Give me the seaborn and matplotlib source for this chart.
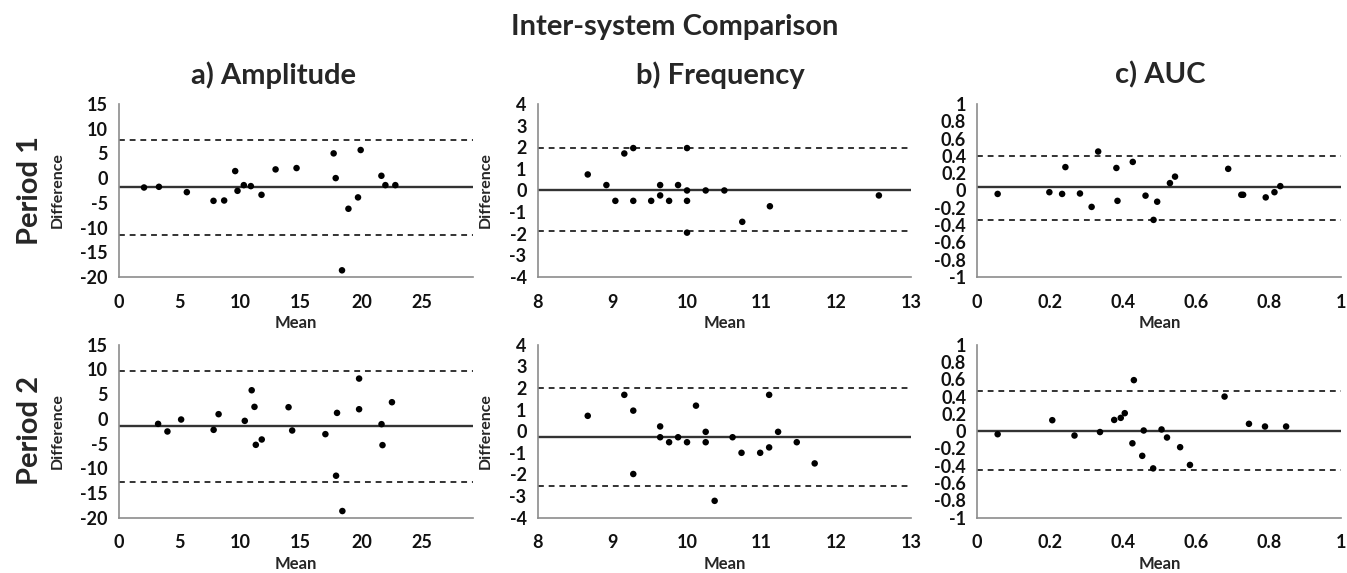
import numpy as np
import pandas as pd
import matplotlib
matplotlib.use("Agg")
import matplotlib.pyplot as plt
import seaborn as sns

# ---------------- data ----------------
amp1_mean = [2.07, 3.3, 5.6, 7.8, 8.68, 9.59, 9.78, 10.3, 10.88, 11.76, 12.92, 14.65,
             17.71, 17.88, 18.4, 18.93, 19.72, 19.94, 21.65, 21.98, 22.8]
amp1_diff = [-1.9, -1.76, -2.84, -4.6, -4.53, 1.42, -2.57, -1.42, -1.62, -3.38, 1.76, 2.03,
             5.0, 0.0, -18.65, -6.2, -3.9, 5.68, 0.47, -1.42, -1.42]

freq1_mean = [8.67, 8.92, 9.04, 9.16, 9.28, 9.28, 9.52, 9.64, 9.64, 9.76, 9.88, 10.0,
              10.0, 10.0, 10.0, 10.25, 10.5, 10.74, 11.11, 12.57]
freq1_diff = [0.74, 0.25, -0.48, 1.71, 1.96, -0.48, -0.48, 0.25, -0.23, -0.48, 0.25, 1.96,
              0.0, -0.48, -1.95, 0.0, 0.0, -1.45, -0.73, -0.23]

auc1_mean = [0.056, 0.198, 0.233, 0.242, 0.282, 0.314, 0.332, 0.382, 0.385, 0.427, 0.462,
             0.484, 0.494, 0.529, 0.543, 0.689, 0.725, 0.73, 0.792, 0.816, 0.832]
auc1_diff = [-0.04, -0.02, -0.04, 0.27, -0.035, -0.19, 0.45, 0.26, -0.12, 0.33, -0.06,
             -0.34, -0.13, 0.085, 0.16, 0.25, -0.05, -0.05, -0.08, -0.02, 0.05]

amp2_mean = [3.23, 4.0, 5.13, 7.81, 8.22, 10.38, 10.95, 11.18, 11.29, 11.78, 13.99, 14.29,
             17.03, 17.91, 17.99, 18.43, 19.81, 19.81, 21.66, 21.74, 22.52]
amp2_diff = [-1.02, -2.56, -0.14, -2.23, 0.94, -0.41, 5.78, 2.42, -5.26, -4.18, 2.35, -2.36,
             -3.1, -11.51, 1.2, -18.65, 8.14, 1.94, -1.08, -5.32, 3.36]

freq2_mean = [8.67, 9.16, 9.28, 9.28, 9.64, 9.64, 9.76, 9.88, 10.0, 10.12, 10.25, 10.25,
              10.37, 10.61, 10.73, 10.98, 11.1, 11.1, 11.22, 11.47, 11.71]
freq2_diff = [0.71, 1.68, 0.95, -1.98, 0.22, -0.28, -0.51, -0.28, -0.51, 1.18, -0.03, -0.51,
              -3.22, -0.28, -1.0, -1.0, 1.68, -0.75, -0.03, -0.51, -1.49]

auc2_mean = [0.056, 0.206, 0.267, 0.337, 0.376, 0.394, 0.405, 0.426, 0.43, 0.453, 0.457,
             0.483, 0.506, 0.521, 0.557, 0.584, 0.679, 0.746, 0.79, 0.848]
auc2_diff = [-0.035, 0.127, -0.05, -0.01, 0.13, 0.154, 0.208, -0.14, 0.59, -0.285, 0.008,
             -0.43, 0.02, -0.073, -0.185, -0.39, 0.4, 0.085, 0.054, 0.054]

# bias and limits of agreement (rows: period 1, period 2; cols: amp, freq, auc)
bias = [[-1.9, 0.0, 0.035], [-1.42, -0.28, 0.0]]
upper = [[7.7, 1.96, 0.40], [9.75, 2.0, 0.465]]
lower = [[-11.5, -1.88, -0.34], [-12.8, -2.55, -0.454]]

col_titles = ["a) Amplitude", "b) Frequency", "c) AUC"]
row_titles = ["Period 1", "Period 2"]
main_title = "Inter-system Comparison"

amp_xticks = [0, 5, 10, 15, 20, 25]
amp_yticks = [-20, -15, -10, -5, 0, 5, 10, 15]
freq_xticks = [8, 9, 10, 11, 12, 13]
freq_yticks = [-4, -3, -2, -1, 0, 1, 2, 3, 4]
auc_xticks = [0, 0.2, 0.4, 0.6, 0.8, 1]
auc_xlabels = ["0", "0.2", "0.4", "0.6", "0.8", "1"]
auc_yticks = [-1, -0.8, -0.6, -0.4, -0.2, 0, 0.2, 0.4, 0.6, 0.8, 1]
auc_ylabels = ["-1", "-0.8", "-0.6", "-0.4", "-0.2", "0", "0.2", "0.4", "0.6", "0.8", "1"]

# ---------------- style ----------------
sns.set_style("white")
plt.rcParams['font.family'] = ['Lato', 'DejaVu Sans']
plt.rcParams['font.weight'] = 'bold'
plt.rcParams['axes.unicode_minus'] = False

fig = plt.figure(figsize=(13.47, 5.73), dpi=100)

lefts = [0.0883, 0.3992, 0.7255]
widths = [0.2628, 0.2771, 0.2704]
bottoms = [0.5166, 0.0965]
height = 0.302

data = [[(amp1_mean, amp1_diff), (freq1_mean, freq1_diff), (auc1_mean, auc1_diff)],
        [(amp2_mean, amp2_diff), (freq2_mean, freq2_diff), (auc2_mean, auc2_diff)]]

spine_col = "#8c8c8c"
line_col = "#333333"
tick_fs = 13

for r in range(2):
    for c in range(3):
        ax = fig.add_axes([lefts[c], bottoms[r], widths[c], height])
        xm, yd = data[r][c]
        df = pd.DataFrame({"Mean": xm, "Difference": yd})
        ax.axhline(bias[r][c], color=line_col, lw=1.7, zorder=1)
        ax.axhline(upper[r][c], color=line_col, lw=1.4, ls=(0, (3, 2.5)), zorder=1)
        ax.axhline(lower[r][c], color=line_col, lw=1.4, ls=(0, (3, 2.5)), zorder=1)
        sns.scatterplot(data=df, x="Mean", y="Difference", ax=ax, color="black",
                        s=22, edgecolor="none", zorder=3, clip_on=False)
        if c == 0:
            ax.set_xlim(0, 29.2)
            ax.set_ylim(-20, 15)
            xt, xl = amp_xticks, [str(t) for t in amp_xticks]
            yt, yl = amp_yticks, [str(t) for t in amp_yticks]
        elif c == 1:
            ax.set_xlim(8, 13)
            ax.set_ylim(-4, 4)
            xt, xl = freq_xticks, [str(t) for t in freq_xticks]
            yt, yl = freq_yticks, [str(t) for t in freq_yticks]
        else:
            ax.set_xlim(0, 1)
            ax.set_ylim(-1, 1)
            xt, xl = auc_xticks, auc_xlabels
            yt, yl = auc_yticks, auc_ylabels
        ax.set_xticks(xt)
        ax.set_xticklabels(xl, fontsize=tick_fs, fontweight="bold", color="#111111")
        ax.set_yticks(yt)
        ax.set_yticklabels(yl, fontsize=tick_fs, fontweight="bold", color="#111111")
        ax.set_xlabel("Mean", fontsize=12, fontweight="bold", labelpad=3)
        if c < 2:
            ax.set_ylabel("Difference", fontsize=11.5, fontweight="bold")
            ax.yaxis.set_label_coords(-0.153 if c == 0 else -0.12, 0.5)
        else:
            ax.set_ylabel("")
        for s in ["top", "right"]:
            ax.spines[s].set_visible(False)
        for s in ["left", "bottom"]:
            ax.spines[s].set_color(spine_col)
            ax.spines[s].set_linewidth(1.2)
        ax.tick_params(axis="both", direction="out", length=5, width=1.1,
                       color=spine_col)
        ax.tick_params(axis="x", pad=7)
        ax.tick_params(axis="y", pad=3)

fig.text(0.501, 0.953, main_title, ha="center", va="center", fontsize=21, fontweight="bold")
fig.text(0.203, 0.869, col_titles[0], ha="center", va="center", fontsize=21, fontweight="bold")
fig.text(0.535, 0.869, col_titles[1], ha="center", va="center", fontsize=21, fontweight="bold")
fig.text(0.861, 0.869, col_titles[2], ha="center", va="center", fontsize=21, fontweight="bold")
fig.text(0.022, 0.668, row_titles[0], ha="center", va="center", rotation=90, fontsize=21, fontweight="bold")
fig.text(0.022, 0.249, row_titles[1], ha="center", va="center", rotation=90, fontsize=21, fontweight="bold")

fig.savefig("out.png", dpi=100)
